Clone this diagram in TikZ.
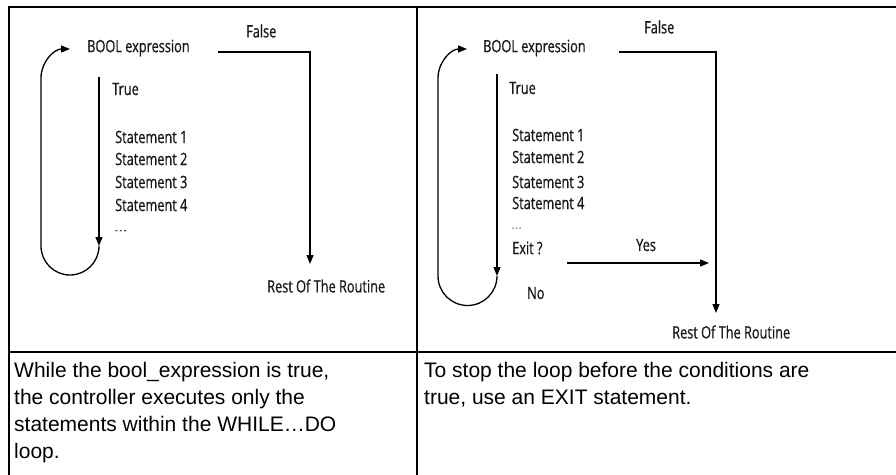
\documentclass[tikz,border=0pt]{standalone}
\usepackage{fontspec}
\setmainfont{Liberation Sans}
\newfontfamily\flowfont[FakeStretch=0.75,FakeBold=0.6]{Open Sans}
\usetikzlibrary{arrows.meta}
\begin{document}
\begin{tikzpicture}[x=1pt,y=-1pt,
  flowtext/.style={anchor=west,inner sep=0pt,font=\flowfont\fontsize{17}{20}\selectfont,text=black!90},
  flowline/.style={line width=1.3pt,draw=black},
  flowarrow/.style={flowline,-{Triangle[length=9pt,width=7pt]}},
  rule/.style={line width=2.2pt,line cap=rect},
  celltext/.style={anchor=north west,inner sep=0pt,align=left,font=\fontsize{21}{27}\selectfont}]
\useasboundingbox (0,0) rectangle (896,474);
\fill[white] (0,0) rectangle (896,474);

% table frame
\draw[rule] (896,7) -- (9,7) -- (9,474);
\draw[rule] (417,7) -- (417,474);
\draw[rule] (9,352) -- (896,352);

% ---------- left flow chart: WHILE...DO ----------
\node[flowtext] (boolA) at (87,48) {BOOL expression};
\node[flowtext] (falseA) at (246,31) {False};
\node[flowtext] (trueA) at (112,89) {True};
\node[flowtext] (sA1) at (115,137) {Statement 1};
\node[flowtext] (sA2) at (115,159) {Statement 2};
\node[flowtext] (sA3) at (115,182) {Statement 3};
\node[flowtext] (sA4) at (115,205) {Statement 4};
\node[flowtext] (dotsA) at (115,232) {\fontsize{10}{10}\selectfont- - -};
\node[flowtext] (restA) at (267,286) {Rest Of The Routine};

\coordinate (trueTopA) at (99,77);
\coordinate (trueEndA) at (99,246);
\coordinate (falseStartA) at (218,52);
\coordinate (falseCornerA) at (310,52);
\coordinate (falseEndA) at (310,264);

\draw[flowarrow] (trueTopA) -- (trueEndA);
\draw[flowarrow] (trueEndA) arc[start angle=0,end angle=180,radius=29]
  -- (41,78) arc[start angle=180,end angle=270,radius=29];
\draw[flowarrow] (falseStartA) -- (falseCornerA) -- (falseEndA);

% ---------- right flow chart: with EXIT ----------
\node[flowtext] (boolB) at (483,48) {BOOL expression};
\node[flowtext] (falseB) at (644,27) {False};
\node[flowtext] (trueB) at (509,88) {True};
\node[flowtext] (sB1) at (512,135) {Statement 1};
\node[flowtext] (sB2) at (512,157) {Statement 2};
\node[flowtext] (sB3) at (512,182) {Statement 3};
\node[flowtext] (sB4) at (512,203) {Statement 4};
\node[flowtext] (dotsB) at (512,229) {\fontsize{8}{8}\selectfont- - -};
\node[flowtext] (exitB) at (512,248) {Exit ?};
\node[flowtext] (yesB) at (636,245) {Yes};
\node[flowtext] (noB) at (527,293) {No};
\node[flowtext] (restB) at (672,332) {Rest Of The Routine};

\coordinate (trueTopB) at (497,74);
\coordinate (trueEndB) at (497,276);
\coordinate (falseStartB) at (619,52);
\coordinate (falseCornerB) at (716,52);
\coordinate (falseEndB) at (716,313);
\coordinate (yesStart) at (567,263);
\coordinate (yesEnd) at (709,263);

\draw[flowarrow] (trueTopB) -- (trueEndB);
\draw[flowarrow] (trueEndB) arc[start angle=0,end angle=180,radius=29.5]
  -- (438,78) arc[start angle=180,end angle=270,radius=29];
\draw[flowarrow] (falseStartB) -- (falseCornerB) -- (falseEndB);
\draw[flowarrow] (yesStart) -- (yesEnd);

% ---------- description row ----------
\node[celltext] (descA) at (14,362) {While the bool\_expression is true,\\the controller executes only the\\statements within the WHILE\ldots DO\\loop.};
\node[celltext] (descB) at (424,362) {To stop the loop before the conditions are\\true, use an EXIT statement.};
\end{tikzpicture}
\end{document}
